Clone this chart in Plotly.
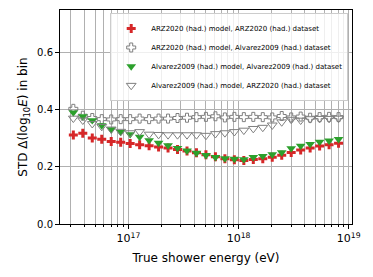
import plotly.graph_objects as go

# log10 of bin-centre energies (eV)
log_energy = [16.500, 16.586, 16.672, 16.758, 16.844, 16.930, 17.016, 17.102, 17.188, 17.274,
              17.360, 17.446, 17.532, 17.618, 17.704, 17.790, 17.876, 17.962, 18.048, 18.134,
              18.220, 18.306, 18.392, 18.478, 18.564, 18.650, 18.736, 18.822, 18.908]

arz_model_arz_data = [0.311, 0.317, 0.300, 0.296, 0.288, 0.285, 0.281, 0.277, 0.273, 0.269,
                      0.265, 0.260, 0.255, 0.249, 0.242, 0.235, 0.228, 0.224, 0.222, 0.225,
                      0.228, 0.233, 0.240, 0.250, 0.258, 0.265, 0.272, 0.277, 0.282]

arz_model_alv_data = [0.402, 0.378, 0.370, 0.366, 0.365, 0.366, 0.366, 0.368, 0.366, 0.368,
                      0.368, 0.370, 0.371, 0.373, 0.374, 0.376, 0.372, 0.374, 0.373, 0.374,
                      0.373, 0.372, 0.377, 0.372, 0.375, 0.371, 0.373, 0.374, 0.373]

alv_model_alv_data = [0.389, 0.376, 0.362, 0.344, 0.330, 0.321, 0.313, 0.304, 0.292, 0.283,
                      0.274, 0.265, 0.256, 0.248, 0.240, 0.233, 0.229, 0.227, 0.226, 0.233,
                      0.237, 0.243, 0.250, 0.264, 0.273, 0.279, 0.287, 0.291, 0.296]

alv_model_arz_data = [0.369, 0.362, 0.350, 0.340, 0.331, 0.323, 0.318, 0.322, 0.313, 0.312,
                      0.311, 0.311, 0.311, 0.311, 0.309, 0.315, 0.318, 0.322, 0.327, 0.333,
                      0.337, 0.345, 0.356, 0.365, 0.362, 0.367, 0.368, 0.368, 0.369]

labels = ["ARZ2020 (had.) model, ARZ2020 (had.) dataset",
          "ARZ2020 (had.) model, Alvarez2009 (had.) dataset",
          "Alvarez2009 (had.) model, Alvarez2009 (had.) dataset",
          "Alvarez2009 (had.) model, ARZ2020 (had.) dataset"]

major_ticks = [17, 18, 19]
major_text = ["10<sup>17</sup>", "10<sup>18</sup>", "10<sup>19</sup>"]
y_ticks = [0.0, 0.2, 0.4, 0.6]

energy = [10 ** v for v in log_energy]
minor_vals = [m * 10 ** d for d in (16, 17, 18) for m in range(2, 10)]
major_vals = [10 ** d for d in major_ticks]

RED = "#d62728"
GREEN = "#2ca02c"
GRAY = "#7f7f7f"

fig = go.Figure()
fig.add_trace(go.Scatter(x=energy, y=arz_model_arz_data, mode="markers", name=labels[0],
                         marker=dict(symbol="cross", size=7.5, color=RED, line=dict(width=0))))
fig.add_trace(go.Scatter(x=energy, y=arz_model_alv_data, mode="markers", name=labels[1],
                         marker=dict(symbol="cross-open", size=7.5, color=GRAY, line=dict(width=1, color=GRAY))))
fig.add_trace(go.Scatter(x=energy, y=alv_model_alv_data, mode="markers", name=labels[2],
                         marker=dict(symbol="triangle-down", size=8.5, color=GREEN, line=dict(width=0))))
fig.add_trace(go.Scatter(x=energy, y=alv_model_arz_data, mode="markers", name=labels[3],
                         marker=dict(symbol="triangle-down-open", size=8.5, color=GRAY, line=dict(width=1, color=GRAY))))

fig.update_layout(
    width=373, height=277,
    margin=dict(l=60, r=21, t=10, b=53),
    paper_bgcolor="white", plot_bgcolor="white",
    font=dict(family="DejaVu Sans", size=10, color="black"),
    showlegend=True,
    legend=dict(x=0.987, y=0.986, xanchor="right", yanchor="top",
                font=dict(size=7), bgcolor="rgba(255,255,255,0.8)",
                bordercolor="#cccccc", borderwidth=1, tracegroupgap=0,
                itemwidth=30),
    xaxis=dict(type="log", range=[16.379, 19.03],
               tickmode="array", tickvals=major_vals, ticktext=major_text,
               ticks="outside", ticklen=4, tickwidth=1, tickcolor="black",
               tickfont=dict(size=11),
               showgrid=True, gridcolor="#b0b0b0", gridwidth=0.8,
               showline=True, linecolor="black", linewidth=1, mirror=True,
               zeroline=False,
               minor=dict(tickmode="array", tickvals=minor_vals, ticks="outside",
                          ticklen=2, tickcolor="black", showgrid=True,
                          gridcolor="#b0b0b0", gridwidth=0.8),
               title=dict(text="True shower energy (eV)", standoff=9)),
    yaxis=dict(range=[0, 0.747], tickmode="array", tickvals=y_ticks,
               tickformat=".1f",
               ticks="outside", ticklen=4, tickwidth=1, tickcolor="black",
               showgrid=True, gridcolor="#b0b0b0", gridwidth=0.8,
               showline=True, linecolor="black", linewidth=1, mirror=True,
               zeroline=False,
               title=dict(text="STD Δ(log<sub>10</sub><i>E</i>) in bin", standoff=6)),
)

fig.write_html("out.html", config={"displayModeBar": False},
               post_script="document.body.style.margin='0';")
